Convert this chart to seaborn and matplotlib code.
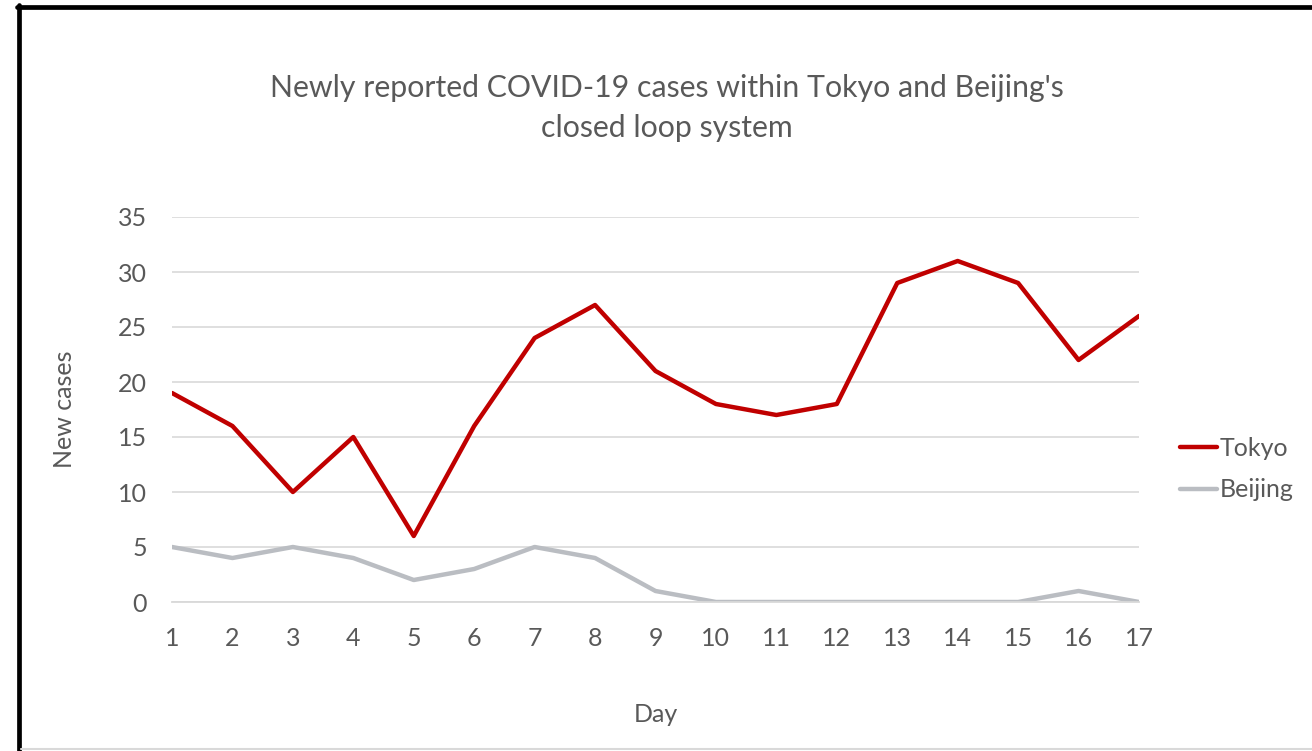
import matplotlib
matplotlib.use("Agg")
import matplotlib.pyplot as plt
from matplotlib.lines import Line2D
import seaborn as sns
import pandas as pd

days = list(range(1, 18))
tokyo = [19, 16, 10, 15, 6, 16, 24, 27, 21, 18, 17, 18, 29, 31, 29, 22, 26]
beijing = [5, 4, 5, 4, 2, 3, 5, 4, 1, 0, 0, 0, 0, 0, 0, 1, 0]
series_names = ["Tokyo", "Beijing"]
y_ticks = [0, 5, 10, 15, 20, 25, 30, 35]

df = pd.DataFrame({
    "Day": days * 2,
    "New cases": tokyo + beijing,
    "City": [series_names[0]] * len(days) + [series_names[1]] * len(days),
})

sns.set_theme(style="white")
plt.rcParams["font.family"] = ["Lato", "DejaVu Sans"]
TXT = "#595959"
GRID = "#D9D9D9"
RED = "#C00000"
GREY = "#BABDC2"

fig = plt.figure(figsize=(13.12, 7.51), dpi=100)
W, H = 1312, 751
ax = fig.add_axes([172 / W, 1 - 602 / H, (1139 - 172) / W, (602 - 217) / H])

sns.lineplot(data=df, x="Day", y="New cases", hue="City",
             palette={"Tokyo": RED, "Beijing": GREY},
             linewidth=3.2, ax=ax, legend=False)

ax.set_xlim(1, 17)
ax.set_ylim(0, 35)
ax.set_yticks(y_ticks)
ax.set_xticks(days)
ax.set_xticklabels([str(d) for d in days])
ax.yaxis.grid(True, color=GRID, linewidth=1.2)
ax.set_axisbelow(True)
for s in ["top", "right", "left"]:
    ax.spines[s].set_visible(False)
ax.spines["bottom"].set_color(GRID)
ax.spines["bottom"].set_linewidth(1.3)
ax.tick_params(axis="x", direction="in", length=9, width=1.2, color=GRID,
               labelsize=18, labelcolor=TXT, pad=18)
ax.tick_params(axis="y", length=0, labelsize=18, labelcolor=TXT, pad=18)
ax.set_xlabel("Day", fontsize=18, color=TXT, labelpad=38)
ax.set_ylabel("New cases", fontsize=18, color=TXT, labelpad=30)

fig.text(667 / W, 1 - 88 / H, "Newly reported COVID-19 cases within Tokyo and Beijing's",
         ha="center", va="center", fontsize=21.8, color=TXT)
fig.text(667 / W, 1 - 128 / H, "closed loop system",
         ha="center", va="center", fontsize=21.8, color=TXT)

handles = [Line2D([], [], color=RED, linewidth=3.2),
           Line2D([], [], color=GREY, linewidth=3.2)]
leg = fig.legend(handles, series_names, loc="center left",
                 bbox_to_anchor=(1157 / W, 1 - 469 / H), frameon=False,
                 fontsize=18, handlelength=1.5, handletextpad=0.1,
                 labelspacing=0.75, labelcolor=TXT)

# chart frame
fig.add_artist(Line2D([19 / W, 19 / W], [1 - 5 / H, 1 - 751 / H], color="black", linewidth=3.4,
                      transform=fig.transFigure))
fig.add_artist(Line2D([17 / W, 1.0], [1 - 7 / H, 1 - 7 / H], color="black", linewidth=3.4,
                      transform=fig.transFigure))
fig.add_artist(Line2D([21 / W, 1.0], [1 - 749 / H, 1 - 749 / H], color="#D9D9D9", linewidth=1.5,
                      transform=fig.transFigure))

fig.savefig("out.png", dpi=100)
